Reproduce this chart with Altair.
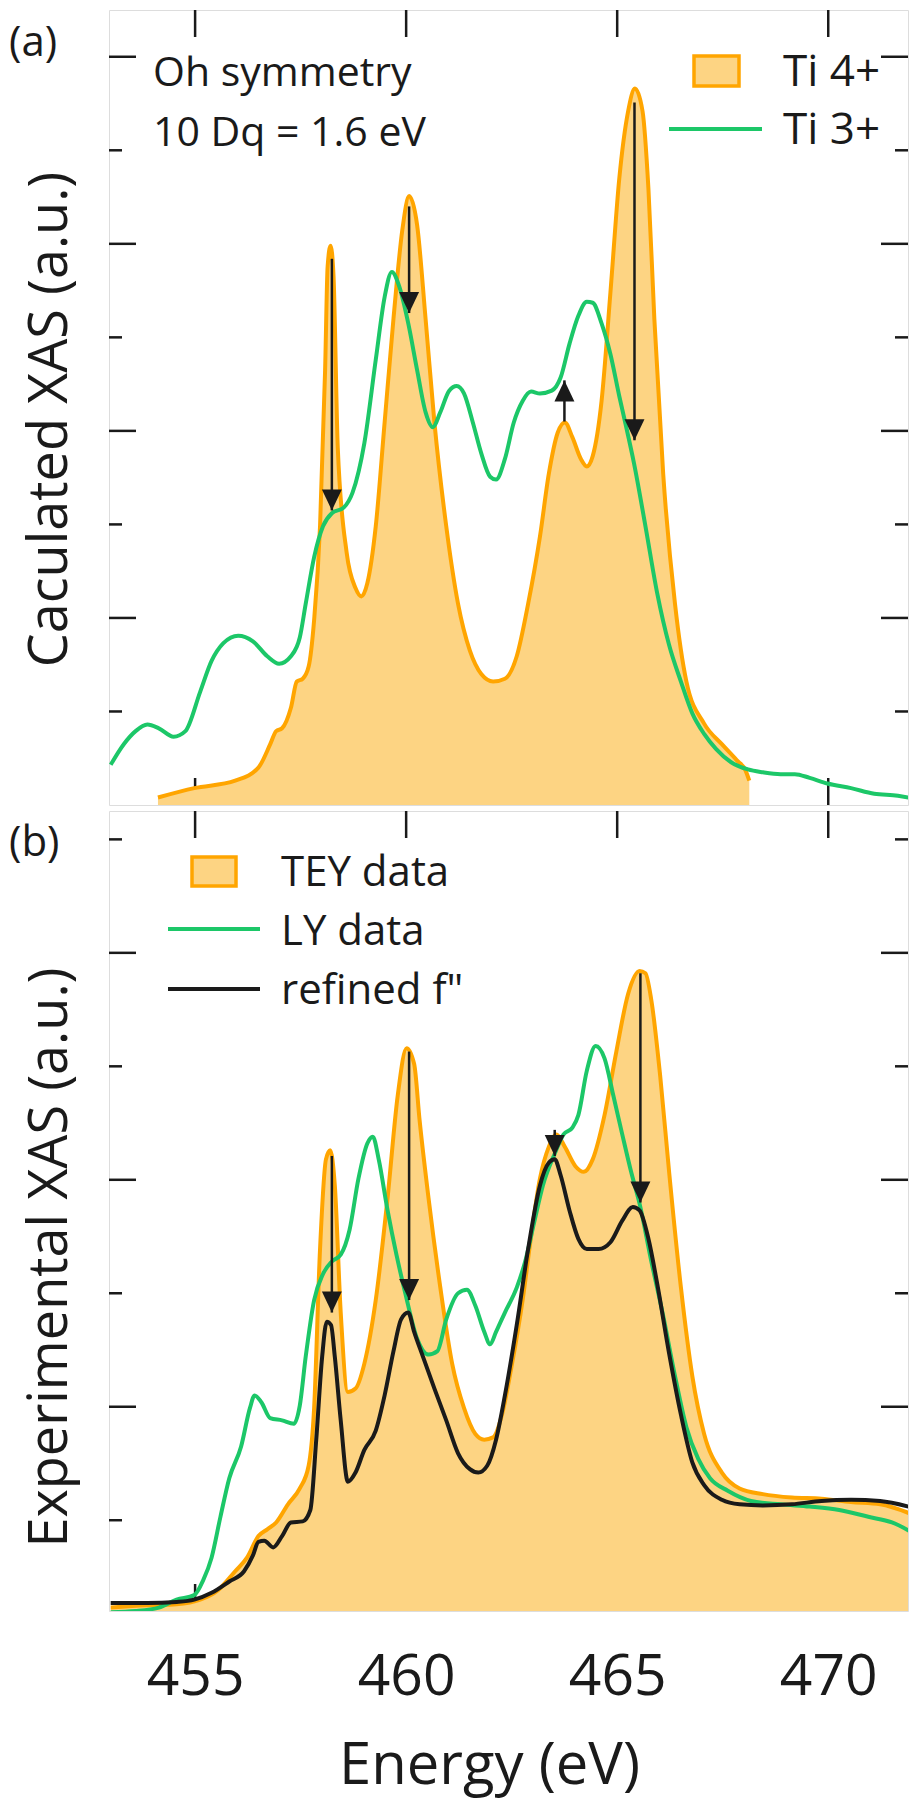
import altair as alt
import pandas as pd

# ---------------- data ----------------
x_domain = [452.96, 471.89]
x_ticks = [455, 460, 465, 470]

# Panel (a): calculated spectra (arbitrary units)
a_ti4_energy = [454.12, 454.98, 455.95, 456.50, 456.78, 456.92, 457.06, 457.27, 457.41, 457.55,
                457.69, 457.82, 457.96, 458.08, 458.14, 458.21, 458.28, 458.38, 458.59, 458.80,
                458.94, 459.08, 459.28, 459.49, 459.70, 459.91, 460.07, 460.26, 460.46, 460.67,
                460.95, 461.23, 461.51, 461.78, 462.06, 462.34, 462.62, 462.89, 463.17, 463.38,
                463.59, 463.76, 463.94, 464.14, 464.28, 464.42, 464.63, 464.84, 465.05, 465.26,
                465.42, 465.60, 465.74, 465.88, 466.09, 466.37, 466.64, 467.06, 467.48, 467.83,
                468.04, 468.13]
a_ti4_value = [0.08, 0.18, 0.26, 0.40, 0.65, 0.79, 0.82, 1.04, 1.32, 1.35,
               1.48, 1.98, 2.98, 4.65, 5.76, 5.98, 5.65, 3.82, 2.70, 2.32,
               2.23, 2.37, 2.98, 4.09, 5.20, 6.15, 6.51, 6.20, 5.20, 4.09,
               2.98, 2.15, 1.65, 1.40, 1.32, 1.35, 1.59, 2.15, 2.87, 3.54,
               3.98, 4.09, 3.93, 3.70, 3.62, 3.73, 4.32, 5.48, 6.70, 7.42,
               7.66, 7.42, 6.59, 5.20, 3.54, 2.15, 1.32, 0.87, 0.65, 0.48,
               0.37, 0.26]
a_ti3_energy = [453.00, 453.31, 453.59, 453.87, 454.14, 454.49, 454.77, 455.12, 455.39, 455.67,
                456.02, 456.37, 456.71, 456.99, 457.27, 457.48, 457.62, 457.82, 458.03, 458.24,
                458.52, 458.73, 459.01, 459.28, 459.49, 459.66, 459.84, 460.05, 460.26, 460.46,
                460.63, 460.81, 461.02, 461.20, 461.37, 461.58, 461.78, 461.99, 462.13, 462.34,
                462.55, 462.76, 462.96, 463.17, 463.45, 463.66, 463.87, 464.08, 464.28, 464.42,
                464.63, 464.84, 465.05, 465.19, 465.40, 465.67, 465.95, 466.23, 466.51, 466.78,
                467.06, 467.34, 467.69, 468.10, 468.45, 468.87, 469.21, 469.56, 469.98, 470.54,
                471.09, 471.65, 472.00]
a_ti3_value = [0.43, 0.65, 0.79, 0.86, 0.82, 0.73, 0.79, 1.21, 1.54, 1.73,
               1.81, 1.75, 1.59, 1.51, 1.59, 1.79, 2.15, 2.65, 2.98, 3.12,
               3.18, 3.34, 3.87, 4.76, 5.43, 5.70, 5.54, 5.15, 4.65, 4.20,
               4.04, 4.20, 4.43, 4.48, 4.40, 4.09, 3.76, 3.51, 3.48, 3.70,
               4.09, 4.32, 4.42, 4.40, 4.43, 4.57, 4.93, 5.23, 5.38, 5.37,
               5.15, 4.82, 4.37, 4.09, 3.65, 2.98, 2.26, 1.71, 1.32, 0.98,
               0.76, 0.60, 0.46, 0.38, 0.35, 0.33, 0.33, 0.29, 0.23, 0.18,
               0.12, 0.10, 0.07]
a_arrow_energy = [458.24, 460.07, 463.75, 465.41]
a_arrow_start = [5.84, 6.40, 4.10, 7.51]
a_arrow_end = [3.15, 5.26, 4.54, 3.90]
a_ytick_major = [2, 4, 6, 8]
a_ytick_minor = [1, 3, 5, 7]
a_y_domain = [0, 8.5]

# Panel (b): experimental spectra (arbitrary units)
b_tey_energy = [453.00, 453.87, 454.56, 455.12, 455.53, 455.95, 456.23, 456.50, 456.71, 456.92,
                457.20, 457.48, 457.69, 457.82, 457.96, 458.10, 458.20, 458.31, 458.45, 458.62,
                458.80, 459.01, 459.28, 459.56, 459.80, 460.01, 460.19, 460.32, 460.53, 460.81,
                461.09, 461.37, 461.64, 461.85, 462.06, 462.27, 462.48, 462.76, 462.96, 463.17,
                463.38, 463.56, 463.76, 464.01, 464.21, 464.42, 464.70, 464.98, 465.26, 465.53,
                465.67, 465.81, 466.02, 466.23, 466.51, 466.78, 467.06, 467.48, 467.90, 468.45,
                469.14, 469.84, 470.54, 471.23, 472.00]
b_tey_value = [0.23, 0.25, 0.26, 0.30, 0.38, 0.55, 0.67, 0.86, 0.92, 0.98,
               1.14, 1.28, 1.48, 1.99, 3.39, 4.18, 4.26, 3.95, 2.83, 2.13,
               2.16, 2.38, 2.94, 3.84, 4.74, 5.16, 5.02, 4.52, 3.84, 3.05,
               2.38, 1.99, 1.76, 1.71, 1.73, 1.93, 2.32, 2.94, 3.50, 4.01,
               4.29, 4.40, 4.29, 4.12, 4.07, 4.18, 4.57, 5.13, 5.64, 5.84,
               5.82, 5.58, 4.91, 4.07, 3.05, 2.27, 1.76, 1.42, 1.28, 1.23,
               1.20, 1.19, 1.16, 1.14, 1.05]
b_ly_energy = [453.00, 453.59, 454.14, 454.56, 454.98, 455.19, 455.39, 455.60, 455.81, 456.09,
               456.30, 456.41, 456.57, 456.78, 457.06, 457.34, 457.48, 457.62, 457.82, 458.03,
               458.24, 458.45, 458.66, 458.87, 459.08, 459.21, 459.35, 459.56, 459.77, 459.98,
               460.26, 460.53, 460.74, 460.95, 461.23, 461.44, 461.64, 461.85, 461.99, 462.13,
               462.34, 462.62, 462.82, 463.03, 463.24, 463.52, 463.73, 463.94, 464.08, 464.28,
               464.49, 464.70, 464.91, 465.12, 465.33, 465.53, 465.81, 466.09, 466.37, 466.64,
               466.92, 467.20, 467.62, 468.17, 468.87, 469.56, 470.26, 470.95, 471.51, 472.00]
b_ly_value = [0.19, 0.20, 0.23, 0.30, 0.34, 0.47, 0.67, 1.03, 1.37, 1.65,
              1.99, 2.10, 2.04, 1.90, 1.88, 1.85, 2.01, 2.44, 2.94, 3.17,
              3.28, 3.34, 3.56, 4.01, 4.32, 4.38, 4.18, 3.73, 3.34, 3.00,
              2.60, 2.46, 2.49, 2.77, 3.00, 3.03, 2.89, 2.66, 2.55, 2.66,
              2.83, 3.05, 3.28, 3.62, 3.95, 4.23, 4.40, 4.46, 4.57, 4.96,
              5.18, 5.07, 4.74, 4.40, 4.07, 3.79, 3.28, 2.80, 2.27, 1.82,
              1.54, 1.37, 1.26, 1.17, 1.14, 1.12, 1.09, 1.03, 0.98, 0.89]
b_fit_energy = [453.00, 453.87, 454.56, 454.98, 455.39, 455.81, 456.16, 456.37, 456.50, 456.64,
                456.85, 457.06, 457.27, 457.55, 457.73, 457.87, 458.01, 458.12, 458.22, 458.31,
                458.45, 458.62, 458.80, 459.01, 459.28, 459.49, 459.70, 459.88, 460.05, 460.19,
                460.40, 460.67, 460.95, 461.23, 461.51, 461.71, 461.92, 462.13, 462.34, 462.62,
                462.89, 463.17, 463.38, 463.52, 463.66, 463.87, 464.08, 464.28, 464.56, 464.84,
                465.12, 465.37, 465.53, 465.74, 465.95, 466.23, 466.51, 466.78, 467.06, 467.48,
                467.90, 468.45, 469.14, 469.84, 470.54, 471.23, 472.00]
b_fit_value = [0.27, 0.27, 0.28, 0.30, 0.36, 0.46, 0.55, 0.69, 0.81, 0.82,
               0.76, 0.86, 0.98, 0.99, 1.09, 1.71, 2.44, 2.75, 2.72, 2.44,
               1.88, 1.34, 1.42, 1.62, 1.79, 2.10, 2.49, 2.77, 2.83, 2.66,
               2.44, 2.16, 1.88, 1.59, 1.45, 1.42, 1.48, 1.71, 2.10, 2.72,
               3.39, 3.95, 4.15, 4.18, 4.04, 3.73, 3.48, 3.39, 3.39, 3.45,
               3.64, 3.76, 3.73, 3.48, 3.08, 2.47, 1.93, 1.51, 1.31, 1.18,
               1.14, 1.13, 1.14, 1.17, 1.18, 1.17, 1.11]
b_arrow_energy = [458.24, 460.07, 463.52, 465.55]
b_arrow_start = [4.21, 5.13, 4.44, 5.82]
b_arrow_end = [2.83, 2.94, 4.21, 3.80]
b_ytick_major = [2, 4, 6]
b_ytick_minor = [1, 3, 5, 7]
b_y_domain = [0.2, 7.25]

a_legend_labels = ["Ti 4+", "Ti 3+"]
b_legend_labels = ["TEY data", "LY data", 'refined f"']
a_notes = ["Oh symmetry", "10 Dq = 1.6 eV"]
panel_tags = ["(a)", "(b)"]
a_ytitle = "Caculated XAS (a.u.)"
b_ytitle = "Experimental XAS (a.u.)"
x_title = "Energy (eV)"

# ---------------- styling ----------------
ORANGE = "#FFA500"
FILL = "#FDD483"
GREEN = "#1CC768"
INK = "#1a1a1a"
FONT = "Open Sans"
W = 799
HA = 795
HB = 800
TL = 27   # long tick
TS = 13   # short tick
DOWN = "M -0.95 -2 L 0.95 -2 L 0 0 Z"
UP = "M -0.95 2 L 0.95 2 L 0 0 Z"

xscale = alt.Scale(domain=x_domain, nice=False, zero=False)


def df_xy(xs, ys):
    return pd.DataFrame({"energy": xs, "value": ys})


def make_panel(H, yscale, yaxis, xaxis, ymajor, yminor, marks_fn):
    X = lambda f: alt.X(f"{f}:Q", scale=xscale, axis=xaxis)
    Y = lambda f: alt.Y(f"{f}:Q", scale=yscale, axis=yaxis)
    layers = []
    # inward frame ticks (drawn first, behind the data)
    for vals, L in ((ymajor, TL), (yminor, TS)):
        base = alt.Chart(pd.DataFrame({"v": vals})).mark_rule(color=INK, strokeWidth=2.5)
        layers.append(base.encode(y=Y("v"), x=alt.value(0), x2=alt.value(L)))
        layers.append(base.encode(y=Y("v"), x=alt.value(W - L), x2=alt.value(W)))
    bx = alt.Chart(pd.DataFrame({"v": x_ticks})).mark_rule(color=INK, strokeWidth=2.5)
    layers.append(bx.encode(x=X("v"), y=alt.value(0), y2=alt.value(TL)))
    layers.append(bx.encode(x=X("v"), y=alt.value(H - TL), y2=alt.value(H)))
    layers += marks_fn(X, Y)
    return layers


def arrows(X, Y, xs, y0, y1):
    d = pd.DataFrame({"energy": xs, "start": y0, "end": y1})
    d["dir"] = ["down" if e < s else "up" for s, e in zip(y0, y1)]
    rule = alt.Chart(d).mark_rule(color=INK, strokeWidth=2.5).encode(
        x=X("energy"), y=Y("start"), y2="end:Q")
    head = alt.Chart(d).mark_point(filled=True, size=441, opacity=1, color=INK, strokeWidth=0).encode(
        x=X("energy"), y=Y("end"),
        shape=alt.Shape("dir:N", scale=alt.Scale(domain=["down", "up"], range=[DOWN, UP]), legend=None),
    )
    return [rule, head]


def label(text, x, y, size, align="left", baseline="alphabetic"):
    return alt.Chart(pd.DataFrame({"t": [text]})).mark_text(
        font=FONT, fontSize=size, color=INK, align=align, baseline=baseline
    ).encode(text="t:N", x=alt.value(x), y=alt.value(y))


def ytitle_axis(title, ty):
    return alt.Axis(title=title, ticks=False, tickSize=0, labels=False, domain=False, grid=False,
                    titleFont=FONT, titleFontSize=54, titleFontWeight="normal", titleColor=INK,
                    titleAngle=270, titleX=-43, titleY=ty, titleAlign="center",
                    titleBaseline="alphabetic")


def line(data, X, Y, color):
    return alt.Chart(data).mark_line(color=color, strokeWidth=4, interpolate="monotone", clip=True).encode(
        x=X("energy"), y=Y("value"))


# ---------------- panel (a) ----------------
ya = alt.Scale(domain=a_y_domain, nice=False, zero=False)
a_ti4 = df_xy(a_ti4_energy, a_ti4_value)
a_ti3 = df_xy(a_ti3_energy, a_ti3_value)


def marks_a(X, Y):
    fill = alt.Chart(a_ti4).mark_area(color=FILL, interpolate="monotone", opacity=1, clip=True).encode(
        x=X("energy"), y=Y("value"), y2=alt.datum(0))
    leg_rect = alt.Chart(pd.DataFrame({"t": [a_legend_labels[0]]})).mark_rect(
        fill=FILL, stroke=ORANGE, strokeWidth=3.5
    ).encode(x=alt.value(585), x2=alt.value(630), y=alt.value(46), y2=alt.value(76))
    leg_line = alt.Chart(pd.DataFrame({"t": [a_legend_labels[1]]})).mark_rule(
        color=GREEN, strokeWidth=4
    ).encode(x=alt.value(560), x2=alt.value(653), y=alt.value(119))
    return [fill, line(a_ti4, X, Y, ORANGE), line(a_ti3, X, Y, GREEN),
            *arrows(X, Y, a_arrow_energy, a_arrow_start, a_arrow_end),
            leg_rect, leg_line,
            label(a_legend_labels[0], 674, 76, 44),
            label(a_legend_labels[1], 674, 134, 44),
            label(a_notes[0], 44, 76, 41),
            label(a_notes[1], 44, 136, 41),
            label(panel_tags[0], -100, 33, 42, align="left", baseline="middle")]


panel_a = alt.layer(
    *make_panel(HA, ya, ytitle_axis(a_ytitle, 409), None, a_ytick_major, a_ytick_minor, marks_a)
).properties(width=W, height=HA)

# ---------------- panel (b) ----------------
yb = alt.Scale(domain=b_y_domain, nice=False, zero=False)
b_tey = df_xy(b_tey_energy, b_tey_value)
b_ly = df_xy(b_ly_energy, b_ly_value)
b_fit = df_xy(b_fit_energy, b_fit_value)

x_axis_b = alt.Axis(values=x_ticks, ticks=False, tickSize=0, domain=False, grid=False,
                    labelFont=FONT, labelFontSize=57, labelColor=INK, labelPadding=83,
                    labelBaseline="alphabetic", labelFlush=False, format="d",
                    title=x_title, titleFont=FONT, titleFontSize=58, titleFontWeight="normal",
                    titleColor=INK, titleX=380, titleY=172, titleAlign="center",
                    titleBaseline="alphabetic")


def marks_b(X, Y):
    fill = alt.Chart(b_tey).mark_area(color=FILL, interpolate="monotone", opacity=1, clip=True).encode(
        x=X("energy"), y=Y("value"), y2=alt.datum(b_y_domain[0]))
    leg_rect = alt.Chart(pd.DataFrame({"t": [b_legend_labels[0]]})).mark_rect(
        fill=FILL, stroke=ORANGE, strokeWidth=3.5
    ).encode(x=alt.value(83), x2=alt.value(127), y=alt.value(46), y2=alt.value(75))
    leg_ly = alt.Chart(pd.DataFrame({"t": [b_legend_labels[1]]})).mark_rule(
        color=GREEN, strokeWidth=4
    ).encode(x=alt.value(59), x2=alt.value(151), y=alt.value(118))
    leg_fit = alt.Chart(pd.DataFrame({"t": [b_legend_labels[2]]})).mark_rule(
        color=INK, strokeWidth=4
    ).encode(x=alt.value(59), x2=alt.value(151), y=alt.value(178))
    return [fill, line(b_tey, X, Y, ORANGE), line(b_ly, X, Y, GREEN), line(b_fit, X, Y, INK),
            *arrows(X, Y, b_arrow_energy, b_arrow_start, b_arrow_end),
            leg_rect, leg_ly, leg_fit,
            label(b_legend_labels[0], 172, 75, 42),
            label(b_legend_labels[1], 172, 134, 42),
            label(b_legend_labels[2], 172, 193, 42),
            label(panel_tags[1], -100, 32, 42, align="left", baseline="middle")]


panel_b = alt.layer(
    *make_panel(HB, yb, ytitle_axis(b_ytitle, 446), x_axis_b, b_ytick_major, b_ytick_minor, marks_b)
).properties(width=W, height=HB)

chart = alt.vconcat(panel_a, panel_b, spacing=2).properties(
    padding={"left": 0, "top": 0, "right": 0, "bottom": 6}
).configure_view(stroke=INK, strokeWidth=2.5).configure(font=FONT)

chart.save("out.html", embed_options={"renderer": "svg", "actions": False})
